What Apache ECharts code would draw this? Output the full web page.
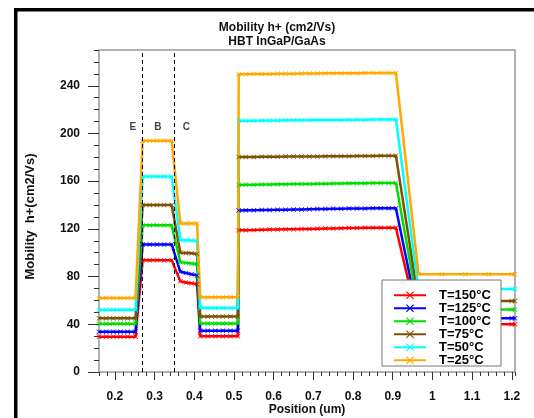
<!DOCTYPE html>
<html><head><meta charset="utf-8">
<script src="https://cdn.jsdelivr.net/npm/echarts@6/dist/echarts.min.js"></script>
<style>html,body{margin:0;padding:0;background:#fff}#c{width:534px;height:418px}</style>
</head><body><div id="c"></div>
<script>
// x positions (um) of the simulation points
const positions = [0.16,0.178,0.196,0.214,0.232,0.252, 0.27,0.288,0.306,0.324,0.343, 0.365,0.379,0.393,0.407,
  0.415,0.434,0.453,0.472,0.491,0.51, 0.512,0.53,0.55,0.57,0.59,0.61,0.63,0.65,0.67,0.69,0.71,0.73,0.75,0.77,0.79,0.81,0.83,0.85,0.87,0.89,0.908,
  0.965,1.024,1.083,1.142,1.2,1.208];
const seriesNames = ['T=150°C','T=125°C','T=100°C','T=75°C','T=50°C','T=25°C'];
const seriesColors = ['#ff0000','#0000ff','#00dd00','#7f5000','#00ffff','#ffa800'];
const t150 = [29.6,29.6,29.6,29.6,29.6,29.6, 93.8,93.8,93.8,93.8,93.8, 76,75,74.5,73.5, 30,30,30,30,30,30,
  118.8,118.9,119,119.2,119.4,119.5,119.6,119.7,119.9,120,120.2,120.3,120.4,120.6,120.7,120.8,120.9,121,121,121,121,
  40,40,40,40,40,40];
const t125 = [33.8,33.8,33.8,33.8,33.8,33.8, 107,107,107,107,107, 84,83,82,81, 34.6,34.6,34.6,34.6,34.6,34.6,
  135.5,135.6,135.7,135.8,135.9,136,136.1,136.2,136.3,136.5,136.6,136.7,136.8,136.9,137,137.1,137.2,137.3,137.4,137.4,137.4,
  45,45,45,45,45,45];
const t100 = [40.5,40.5,40.5,40.5,40.5,40.5, 123,123,123,123,123, 92,91.5,91,90.5, 40.6,40.6,40.6,40.6,40.6,40.6,
  156.9,157,157.1,157.2,157.3,157.4,157.5,157.6,157.7,157.7,157.8,157.9,158,158.1,158.2,158.3,158.3,158.4,158.5,158.5,158.5,
  52.5,52.5,52.5,52.5,52.5,52.5];
const t75 = [45,45,45,45,45,45, 140,140,140,140,140, 100,99.8,99.5,99, 46.5,46.5,46.5,46.5,46.5,46.5,
  180.2,180.2,180.3,180.4,180.4,180.5,180.6,180.6,180.7,180.8,180.8,180.9,180.9,181,181,181.1,181.2,181.2,181.3,181.3,181.3,
  59.5,59.5,59.5,59.5,59.5,59.5];
const t50 = [52.3,52.3,52.3,52.3,52.3,52.3, 164,164,164,164,164, 110.7,110.5,110.3,110, 53.7,53.7,53.7,53.7,53.7,53.7,
  210.6,210.6,210.7,210.8,210.8,210.9,211,211,211.1,211.2,211.2,211.3,211.4,211.4,211.5,211.6,211.6,211.7,211.8,211.8,211.8,
  69.5,69.5,69.5,69.5,69.5,69.5];
const t25 = [62,62,62,62,62,62, 194,194,194,194,194, 124.5,124.5,124.5,124.5, 62.7,62.7,62.7,62.7,62.7,62.7,
  249.6,249.7,249.8,249.8,249.9,250,250,250.1,250.2,250.2,250.3,250.4,250.4,250.5,250.5,250.6,250.7,250.7,250.8,250.8,250.8,
  82,82,82,82,82,82];
const xTickLabels = [0.2,0.3,0.4,0.5,0.6,0.7,0.8,0.9,1.0,1.1,1.2];
const yTickLabels = [0,40,80,120,160,200,240];
const dividerX = [0.272, 0.348];
const regionNames = ['E','B','C'];
const regionX = [0.245, 0.308, 0.38];
const regionY = [205, 205, 205];

const FONT = '"Liberation Sans", Arial, sans-serif';
const XSYM = 'path://M0,1L1,0L5,4L9,0L10,1L6,5L10,9L9,10L5,6L1,10L0,9L4,5Z';
const valueSets = [t150,t125,t100,t75,t50,t25];

const series = valueSets.map((vals,i)=>({
  name: seriesNames[i], type:'line', xAxisIndex:0, yAxisIndex:0,
  data: positions.map((x,j)=>[x, vals[j]]),
  symbol: XSYM, symbolSize: 5, showSymbol: true,
  lineStyle:{width:2.5, color:seriesColors[i]},
  itemStyle:{color:seriesColors[i]},
  animation:false
}));
series[series.length-1].markLine = {
  silent:true, symbol:['none','none'], label:{show:false},
  lineStyle:{color:'#000', type:[4,3], width:1},
  data: dividerX.map(x=>({xAxis:x})), animation:false
};
series.push({
  type:'scatter', name:'regions', xAxisIndex:0, yAxisIndex:0, symbolSize:0,
  data: regionNames.map((n,i)=>[regionX[i], regionY[i], n]),
  label:{show:true, position:'inside', formatter:p=>p.data[2], fontFamily:FONT, fontWeight:'bold', fontSize:10, color:'#111'},
  silent:true, animation:false
});

const chart = echarts.init(document.getElementById('c'), null, {renderer:'canvas'});
chart.setOption({
  animation:false,
  backgroundColor:'#fff',
  grid:{left:99, top:50, right:19, bottom:46, show:true, borderColor:'#999', borderWidth:1.5, backgroundColor:'transparent'},
  xAxis:[
    {type:'value', min:0.16, max:1.208, position:'bottom', axisLine:{show:false}, splitLine:{show:false},
     axisTick:{show:true, customValues:xTickLabels, length:8, lineStyle:{color:'#333', width:1}},
     axisLabel:{customValues:xTickLabels, margin:19, formatter:v=>String(+(+v).toFixed(1)),
       fontFamily:FONT, fontWeight:'bold', fontSize:12, color:'#111'}},
    {type:'value', min:0.16, max:1.208, interval:0.02, position:'bottom', axisLine:{show:false}, splitLine:{show:false},
     axisTick:{show:true, length:4, lineStyle:{color:'#333', width:1}}, axisLabel:{show:false}}
  ],
  yAxis:[
    {type:'value', min:0, max:270, position:'left', axisLine:{show:false}, splitLine:{show:false},
     axisTick:{show:true, customValues:yTickLabels, length:11, lineStyle:{color:'#333', width:1}},
     axisLabel:{customValues:yTickLabels, margin:19, padding:[6,0,0,0],
       fontFamily:FONT, fontWeight:'bold', fontSize:12, color:'#111'}},
    {type:'value', min:0, max:270, interval:10, position:'left', axisLine:{show:false}, splitLine:{show:false},
     axisTick:{show:true, length:5, lineStyle:{color:'#333', width:1}}, axisLabel:{show:false}}
  ],
  legend:{data:seriesNames, orient:'vertical', left:393, top:288.75, itemWidth:32, itemHeight:10, itemGap:0, padding:0,
    textStyle:{fontFamily:FONT, fontSize:13, fontWeight:'bold', color:'#000', lineHeight:12.5, padding:[0,0,0,8]}, z:10, selectedMode:false},
  graphic:[
    {type:'rect', shape:{x:15.75, y:9.75, width:560, height:460}, style:{fill:null, stroke:'#000', lineWidth:3.5}, silent:true, z:20},
    {type:'text', x:277, y:28, style:{text:'Mobility h+ (cm2/Vs)', font:'bold 12px ' + FONT, fill:'#111', textAlign:'center', textVerticalAlign:'middle'}},
    {type:'text', x:277, y:42, style:{text:'HBT InGaP/GaAs', font:'bold 12px ' + FONT, fill:'#111', textAlign:'center', textVerticalAlign:'middle'}},
    {type:'text', x:30, y:216.5, rotation:Math.PI/2, style:{text:'Mobility  h+(cm2/Vs)', font:'bold 13px ' + FONT, fill:'#111', textAlign:'center', textVerticalAlign:'middle'}},
    {type:'text', x:307, y:410, style:{text:'Position (um)', font:'bold 12px ' + FONT, fill:'#111', textAlign:'center', textVerticalAlign:'middle'}},
    {type:'rect', shape:{x:382, y:280, width:119, height:86}, style:{fill:'#fff', stroke:'#777', lineWidth:1}, z:5}
  ],
  series
});
</script></body></html>
